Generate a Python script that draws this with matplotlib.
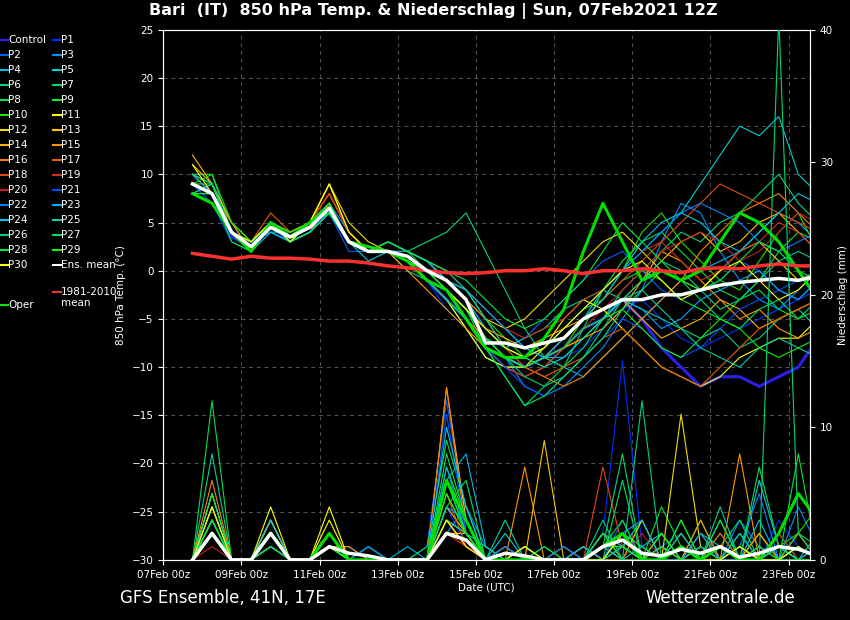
import matplotlib
matplotlib.use("Agg")
import matplotlib.pyplot as plt
import numpy as np

tick_labels = ["07Feb 00z","09Feb 00z","11Feb 00z","13Feb 00z","15Feb 00z","17Feb 00z","19Feb 00z","21Feb 00z","23Feb 00z"]
names = ["Control"] + ["P%d" % i for i in range(1, 31)]
colors = ["#2a20e8","#0030ff","#0060ff","#0090ff","#00b8e8","#00d0d0","#00d090","#00d870","#00e050","#00e830",
          "#20e000","#ffff00","#f0e000","#ffc400","#ffb000","#ff9800","#ff8000","#e06000","#e04810","#d03020",
          "#c02020","#0050ff","#0080ff","#00a8ff","#00c8e0","#00d0a0","#00d080","#00e060","#00e840","#10f010","#ffff00"]

temp = [
[9,8,3.5,2.5,5,3.5,4.5,6,3,2,2,1,-1,-3,-5,-8,-9,-10,-9,-8,-6,-5,-3,-5,-8,-10,-12,-11,-11,-12,-11,-10,-7],
[10,8,4,3,5,3,4,7,3,2,2,1,-1,-4,-6,-9,-10,-11,-10,-9,-8,-6,-4,-3,-5,-7,-8,-7,-6,-5,-4,-3,-2],
[9,7,3,2,4.5,3,5,6,2,2,3,2,1,-1,-3,-6,-8,-7,-5,-3,-1,1,2,0,-2,-3,-2,-1,1,0,-2,-3,-1],
[10,9,4,3,5,4,5,7,4,2,2,1,0,-2,-4,-7,-9,-12,-13,-12,-10,-8,-5,-2,3,7,6,2,-1,-3,-4,-2,0],
[9,8,4,3,4,3,4,6,3,2,2,2,1,-1,-2,-4,-6,-8,-9,-10,-11,-9,-7,-5,-3,-1,0,1,2,4,6,5,3],
[8,9,5,2,5,3,5,7,3,1,2,1,-1,-3,-6,-9,-10,-10,-9,-7,-5,-2,0,2,4,6,9,12,15,14,16,10,8],
[9,8,4,3,4,4,5,6,3,2,2,0,-1,-2,-4,-7,-8,-7,-6,-4,-3,-2,-3,-4,-5,-6,-7,-6,-8,-7,-5,-4,-6],
[10,10,4,2,5,3,4,6,3,2,3,2,3,4,6,2,-2,-6,-9,-10,-8,-5,-2,0,2,4,3,5,6,8,10,7,5],
[9,8,4,3,5,3,4,6,3,2,3,2,0,-2,-4,-8,-11,-14,-12,-10,-6,-2,1,3,4,2,0,-2,-3,-1,2,4,3],
[8,8,3,2,5,3,5,6,3,2,2,1,0,-1,-3,-6,-8,-9,-8,-6,-4,-3,-1,0,-1,-3,-4,-5,-3,-2,-4,-5,-3],
[9,9,4,2,5,3,5,7,3,2,2,1,0,-1,-2,-5,-7,-9,-10,-8,-5,-3,0,4,6,3,1,-1,-2,1,4,6,2],
[10,8,4,3,5,4,5,9,4,2,2,1,-1,-3,-6,-9,-10,-10,-8,-5,-3,-4,-6,-8,-10,-11,-12,-11,-9,-8,-7,-7,-5],
[9,8,4,3,5,3,5,9,5,3,2,2,1,-1,-3,-5,-6,-5,-3,-1,1,3,4,2,0,-1,-2,0,2,3,1,-1,0],
[11,9,5,3,5,4,5,8,4,2,2,1,0,-2,-5,-8,-10,-11,-10,-8,-7,-5,-3,-1,1,3,4,2,3,5,6,4,2],
[12,9,4,3,5,3,4,7,3,2,2,1,0,-2,-4,-6,-7,-8,-7,-6,-5,-4,-3,-5,-7,-6,-5,-3,-4,-6,-5,-4,-3],
[10,8,5,2,5,3,5,8,4,2,2,0,-2,-4,-6,-8,-9,-10,-9,-8,-7,-6,-4,-1,2,1,-1,-3,-5,-4,-6,-7,-6],
[9,8,4,3,5,3,5,7,3,2,2,1,-1,-3,-5,-7,-9,-10,-11,-12,-11,-9,-7,-5,-3,-1,2,4,6,7,8,6,4],
[10,9,4,3,6,4,5,8,4,2,2,1,0,-1,-3,-5,-8,-10,-11,-10,-9,-7,-6,-8,-10,-11,-12,-10,-8,-6,-5,-4,-3],
[9,8,4,2,5,3,5,7,3,2,2,1,-1,-2,-4,-7,-9,-10,-9,-7,-5,-3,-1,1,3,5,7,9,8,7,6,5,4],
[10,8,4,3,5,3,5,8,4,2,3,2,1,0,-2,-4,-6,-7,-6,-5,-3,-2,0,2,3,1,-1,0,2,3,5,4,2],
[9,8,4,3,5,3,5,7,3,2,2,1,0,-2,-5,-8,-10,-11,-10,-8,-6,-4,-2,0,2,3,4,3,1,2,4,6,5],
[9,8,4,3,4,3,4,6,3,2,2,1,-1,-3,-5,-8,-10,-12,-13,-11,-9,-7,-5,-6,-8,-9,-8,-6,-4,-3,-2,-1,0],
[10,9,4,2,5,3,4,6,3,2,2,1,0,-1,-3,-6,-8,-9,-8,-6,-4,-2,0,2,4,6,7,6,5,3,2,3,4],
[10,8,4,3,5,3,5,7,3,2,2,2,1,-1,-2,-4,-6,-8,-9,-9,-7,-5,-3,-4,-6,-5,-3,-2,-1,0,-2,-3,-1],
[9,8,4,2,4,3,4,6,3,2,2,1,0,-2,-4,-7,-9,-10,-9,-7,-5,-3,0,3,5,6,5,3,2,4,6,8,7],
[8,9,4,3,5,3,5,6,3,2,3,2,1,0,-2,-5,-8,-9,-10,-9,-7,-5,-3,-2,-4,-6,-8,-9,-10,-8,-7,-8,-9],
[9,8,4,3,5,3,5,7,3,2,2,1,0,-2,-4,-7,-9,-11,-12,-11,-9,-6,-3,-1,1,0,-2,-4,-3,-1,1,2,1],
[10,9,4,2,5,3,4,6,3,2,2,1,-1,-3,-5,-8,-11,-14,-13,-11,-9,-7,-4,-2,0,-1,-3,-5,-6,-4,-3,-5,-4],
[8,8,4,3,5,3,5,6,3,2,3,2,1,0,-1,-3,-5,-6,-5,-3,-1,2,5,3,1,-1,-2,-1,1,3,2,0,-1],
[9,10,5,3,5,4,5,7,3,2,2,1,0,-2,-4,-7,-9,-10,-9,-8,-6,-5,-4,-6,-8,-9,-7,-5,-6,-8,-9,-8,-7],
[11,8,4,3,5,3,5,9,4,2,2,1,-1,-2,-4,-6,-8,-9,-8,-6,-4,-2,0,1,-1,-3,-2,0,1,-1,-3,-2,0],
]
oper_temp = [8,7,4,2,5,3.5,5,6.5,3,2.5,2,1,-1,-2,-5,-8,-9,-9,-7,-4,2,7,3,-1,0,-1,0,3,6,5,3,0,-3]
mean_temp = [9,8,4,2.5,4.5,3.5,4.5,6.5,3,2,2,1.5,0,-1,-3,-7.5,-7.5,-8,-7.5,-7,-5,-4,-3,-3,-2.5,-2.5,-2,-1.5,-1.2,-1,-0.8,-1,-0.5]
clim_temp = [1.8,1.5,1.2,1.5,1.3,1.3,1.2,1.0,1.0,0.8,0.5,0.3,0,-0.2,-0.3,-0.2,0,0,0.2,0,-0.3,0,0,0.2,0,-0.2,0.2,0.3,0.2,0.5,0.7,0.5,0.5]

precip = [
[0,3,0,0,2,0,0,1,0,0,0,0,0,3,2,0,1,0,0,0,0,1,2,0,0,1,0,2,0,1,0,1,0],
[0,2,0,0,1,0,0,2,0,1,0,0,0,4,1,0,0,1,0,0,0,2,15,1,0,0,1,0,2,0,3,1,0],
[0,4,0,0,3,0,0,1,1,0,0,0,1,12,3,0,1,0,0,0,1,0,3,0,1,2,0,1,0,0,2,0,0],
[0,2,0,0,2,0,0,1,0,0,0,0,0,2,4,1,0,0,0,0,0,1,1,0,2,0,1,0,3,1,0,4,1],
[0,5,0,0,2,0,0,2,0,0,0,1,0,6,8,1,0,1,0,0,0,0,2,1,0,1,0,2,0,0,1,0,0],
[0,3,0,0,1,0,0,1,0,1,0,0,0,3,2,0,2,0,0,1,0,0,1,3,0,0,2,1,0,6,1,0,2],
[0,8,0,0,2,0,0,1,1,0,0,0,0,4,3,0,0,0,1,0,0,2,1,0,1,0,0,3,0,2,0,1,0],
[0,2,0,0,3,0,0,2,0,0,0,0,0,5,2,1,0,0,0,1,0,1,8,0,0,2,0,1,3,0,41,2,1],
[0,12,0,0,2,0,0,1,0,0,0,0,1,9,4,0,1,0,0,0,1,0,2,1,0,0,3,0,1,0,2,0,0],
[0,3,0,0,1,0,0,2,0,1,0,0,0,6,2,0,0,1,0,0,0,1,3,0,4,1,0,2,0,1,0,8,0],
[0,4,0,0,2,0,0,1,0,0,0,0,0,7,3,0,0,0,0,1,0,0,1,0,0,3,0,1,0,0,1,2,4],
[0,2,0,0,4,0,0,3,0,0,0,0,0,3,1,0,1,0,0,0,0,2,1,0,1,0,2,0,1,0,0,1,0],
[0,5,0,0,3,0,0,1,0,0,0,0,0,2,2,0,0,1,0,0,1,0,0,3,0,11,1,0,0,2,0,1,0],
[0,3,0,0,2,0,0,1,0,0,0,0,0,4,2,0,0,0,9,0,0,1,0,0,2,0,0,1,0,0,0,2,0],
[0,2,0,0,3,0,0,2,0,0,0,0,0,13,3,0,0,0,0,1,0,0,2,0,1,0,1,0,1,0,1,0,1],
[0,4,0,0,1,0,0,1,0,0,0,0,0,3,2,0,0,7,0,0,0,2,0,0,1,0,3,0,8,0,0,1,0],
[0,6,0,0,2,0,0,1,1,0,0,0,0,13,2,0,0,0,0,0,1,0,1,0,0,1,0,1,0,2,0,0,0],
[0,3,0,0,1,0,0,2,0,0,0,0,0,5,1,0,0,0,0,0,0,1,2,0,0,0,1,0,0,1,0,1,0],
[0,2,0,0,2,0,0,1,0,0,0,0,0,2,1,0,0,0,0,0,0,7,1,0,1,0,0,2,0,0,1,0,0],
[0,4,0,0,1,0,0,1,0,0,0,0,0,3,1,0,1,0,0,0,0,1,0,0,0,2,0,0,1,0,0,2,0],
[0,1,0,0,1,0,0,1,0,0,0,0,0,2,1,0,0,0,0,0,0,1,0,2,0,0,1,0,0,0,2,0,0],
[0,3,0,0,2,0,0,2,0,0,0,0,0,11,2,0,0,0,0,1,0,0,1,0,0,1,0,3,0,1,0,1,0],
[0,2,0,0,1,0,0,1,0,1,0,0,0,4,3,0,1,0,0,0,0,2,1,0,0,0,2,0,1,5,0,0,0],
[0,3,0,0,2,0,0,1,0,0,0,0,0,7,2,0,0,0,0,0,1,0,2,3,0,1,0,0,2,0,1,0,1],
[0,4,0,0,3,0,0,2,0,0,0,0,0,10,4,0,0,1,0,0,0,1,0,1,2,0,1,0,0,3,0,1,0],
[0,2,0,0,2,0,0,1,0,0,0,0,0,3,2,0,3,0,0,0,0,0,1,0,0,2,0,4,0,0,1,0,0],
[0,3,0,0,1,0,0,1,0,0,0,0,0,6,2,0,0,0,0,0,0,3,0,12,0,0,1,0,2,0,0,1,0],
[0,5,0,0,2,0,0,2,0,0,0,0,0,4,6,0,0,0,1,0,0,0,6,0,1,0,0,1,0,7,1,0,0],
[0,2,0,0,1,0,0,1,0,0,0,0,0,8,3,0,0,0,0,0,0,2,0,0,0,3,0,0,1,0,0,2,0],
[0,3,0,0,2,0,0,1,0,0,0,0,0,5,2,0,0,0,0,0,0,1,1,0,2,0,0,3,0,1,0,0,0],
[0,4,0,0,2,0,0,4,0,0,0,0,0,3,1,0,0,1,0,0,0,0,2,0,0,1,0,0,1,0,0,1,0],
]
oper_precip = [0,2,0,0,2,0,0,2,0,0,0,0,0,6,3,0,0,0,0,0,0,1,2,0,0,1,0,1,0,0,2,5,3]
mean_precip = [0,2,0,0,2,0,0,1,0.5,0.3,0,0,0,2,1.5,0,0.5,0.3,0,0,0,1,1.5,0.5,0.3,0.8,0.5,1,0.2,0.5,1,0.8,0.3]

t = 0.75 + 0.5 * np.arange(len(mean_temp))

fig = plt.figure(figsize=(8.5, 6.2), dpi=100, facecolor="black")
ax = fig.add_axes([0.192, 0.097, 0.761, 0.855], facecolor="black")
ax2 = ax.twinx()
for a in (ax, ax2):
    for s in a.spines.values():
        s.set_color("white")
    a.tick_params(colors="white", labelsize=7.5)

for i, (row, c) in enumerate(zip(temp, colors)):
    ax.plot(t, row, color=c, lw=2.2 if i == 0 else 0.8, zorder=3)
ax.plot(t, oper_temp, color="#00e000", lw=2.2, zorder=4)
ax.plot(t, clim_temp, color="#ff3030", lw=2.5, zorder=5)
ax.plot(t, mean_temp, color="white", lw=2.5, zorder=6)

for i, (row, c) in enumerate(zip(precip, colors)):
    ax2.plot(t, row, color=c, lw=0.8, zorder=3)
ax2.plot(t, oper_precip, color="#00e000", lw=2.2, zorder=4)
ax2.plot(t, mean_precip, color="white", lw=2.5, zorder=6)

ax.set_xlim(0, 16.55)
ax.set_ylim(-30, 25)
ax2.set_ylim(0, 40)
ax.set_yticks(range(-30, 26, 5))
ax2.set_yticks(range(0, 41, 10))
ax.set_xticks(range(0, 17, 2))
ax.set_xticklabels(tick_labels)
ax.grid(True, color="#555555", ls=(0, (4, 4)), lw=0.7)
ax.set_ylabel("850 hPa Temp. (°C)", color="white", fontsize=7.5)
ax2.set_ylabel("Niederschlag (mm)", color="white", fontsize=7.5)
ax.set_xlabel("Date (UTC)", color="white", fontsize=7.5, labelpad=2)

fig.text(0.51, 0.982, "Bari  (IT)  850 hPa Temp. & Niederschlag | Sun, 07Feb2021 12Z",
         color="white", fontsize=11.5, fontweight="bold", ha="center", va="center")
fig.text(0.141, 0.035, "GFS Ensemble, 41N, 17E", color="white", fontsize=12, va="center")
fig.text(0.935, 0.035, "Wetterzentrale.de", color="white", fontsize=12, va="center", ha="right")

# legend
W, H = 850, 620
def entry(x, y, col, label):
    fig.add_artist(plt.Line2D([x / W, (x + 8) / W], [1 - y / H, 1 - y / H], color=col, lw=1.5))
    fig.text((x + 8) / W, 1 - y / H, label, color="white", fontsize=7.5, va="center")
for i, (n, c) in enumerate(zip(names, colors)):
    col, row = i % 2, i // 2
    entry(0 if col == 0 else 53, 40 + 15 * row, c, n)
entry(53, 265, "white", "Ens. mean")
entry(53, 292, "#ff3030", "1981-2010")
fig.text(61 / W, 1 - 303 / H, "mean", color="white", fontsize=7.5, va="center")
entry(0, 305, "#00e000", "Oper")

fig.savefig("out.png", dpi=100, facecolor="black")
